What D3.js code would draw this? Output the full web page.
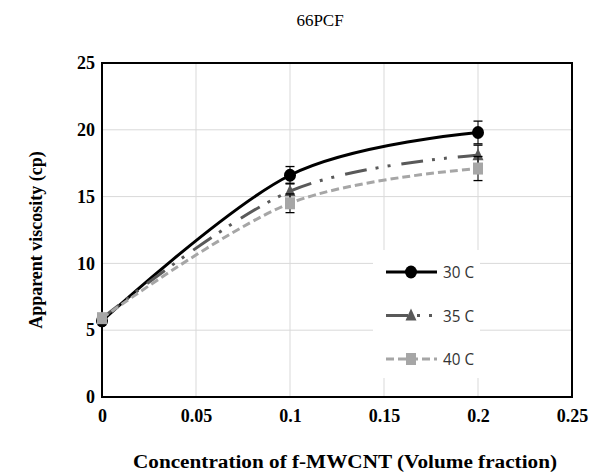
<!DOCTYPE html>
<html>
<head>
<meta charset="utf-8">
<script src="https://cdn.jsdelivr.net/npm/d3@7"></script>
<style>
  body { margin: 0; background: #fff; }
  svg { display: block; }
</style>
</head>
<body>
<script>
// ---- data ----
const concentrations = [0, 0.1, 0.2];
const seriesNames = ["30 C", "35 C", "40 C"];
const visc30 = [5.7, 16.6, 19.8];
const visc35 = [5.9, 15.4, 18.1];
const visc40 = [5.9, 14.5, 17.1];
const err30 = [0, 0.65, 0.85];
const err35 = [0, 0.6, 0.75];
const err40 = [0, 0.7, 0.9];
const xTicks = [0, 0.05, 0.1, 0.15, 0.2, 0.25];
const yTicks = [0, 5, 10, 15, 20, 25];
const chartTitle = "66PCF";
const xTitle = "Concentration of f-MWCNT (Volume fraction)";
const yTitle = "Apparent viscosity (cp)";

const W = 594, H = 475;
const svg = d3.select("body").append("svg").attr("width", W).attr("height", H);

const x = d3.scaleLinear().domain([0, 0.25]).range([102, 572]);
const y = d3.scaleLinear().domain([0, 25]).range([397, 63]);

const serif = "'Liberation Serif', 'Times New Roman', serif";

// gridlines
svg.append("g").selectAll("line.v").data(xTicks.slice(1, -1)).join("line")
  .attr("x1", d => x(d)).attr("x2", d => x(d)).attr("y1", y(25)).attr("y2", y(0))
  .attr("stroke", "#d9d9d9").attr("stroke-width", 1);
svg.append("g").selectAll("line.h").data(yTicks.slice(1, -1)).join("line")
  .attr("x1", x(0)).attr("x2", x(0.25)).attr("y1", d => y(d)).attr("y2", d => y(d))
  .attr("stroke", "#d9d9d9").attr("stroke-width", 1);

// axes (labels only)
const xAxis = svg.append("g").attr("transform", `translate(0,${y(0)})`)
  .call(d3.axisBottom(x).tickValues(xTicks).tickSize(0).tickPadding(12).tickFormat(d3.format("")));
xAxis.select(".domain").remove();
xAxis.selectAll("text").attr("font-family", serif).attr("font-weight", "bold").attr("font-size", 18).attr("fill", "#000");

const yAxis = svg.append("g").attr("transform", `translate(${x(0)},0)`)
  .call(d3.axisLeft(y).tickValues(yTicks).tickSize(0).tickPadding(7));
yAxis.select(".domain").remove();
yAxis.selectAll("text").attr("font-family", serif).attr("font-weight", "bold").attr("font-size", 18).attr("fill", "#000");

// frame
svg.append("rect").attr("x", x(0)).attr("y", y(25)).attr("width", x(0.25) - x(0)).attr("height", y(0) - y(25))
  .attr("fill", "none").attr("stroke", "#000").attr("stroke-width", 2);

// series
const series = [
  { name: seriesNames[0], vals: visc30, err: err30, color: "#000000", dash: null, marker: "circle" },
  { name: seriesNames[1], vals: visc35, err: err35, color: "#595959", dash: "22,9,3,9,3,11", marker: "triangle" },
  { name: seriesNames[2], vals: visc40, err: err40, color: "#a6a6a6", dash: "8,4", marker: "square" }
];

const line = d3.line().curve(d3.curveCardinal.tension(0)).x(d => x(d[0])).y(d => y(d[1]));

function drawMarker(g, type, cx, cy, color) {
  if (type === "circle") {
    g.append("ellipse").attr("cx", cx).attr("cy", cy).attr("rx", 6).attr("ry", 6.5).attr("fill", color);
  } else if (type === "triangle") {
    g.append("path").attr("d", `M${cx},${cy - 7}L${cx + 5.5},${cy + 5}L${cx - 5.5},${cy + 5}Z`).attr("fill", color);
  } else {
    g.append("rect").attr("x", cx - 5).attr("y", cy - 6).attr("width", 10).attr("height", 12).attr("fill", color);
  }
}

series.forEach(s => {
  const pts = concentrations.map((c, i) => [c, s.vals[i]]);
  svg.append("path").datum(pts).attr("d", line)
    .attr("fill", "none").attr("stroke", s.color).attr("stroke-width", 3)
    .attr("stroke-dasharray", s.dash);
});

series.forEach(s => {
  const g = svg.append("g");
  concentrations.forEach((c, i) => {
    const e = s.err[i];
    if (e > 0) {
      const cx = x(c);
      g.append("line").attr("x1", cx).attr("x2", cx).attr("y1", y(s.vals[i] + e)).attr("y2", y(s.vals[i] - e))
        .attr("stroke", "#000").attr("stroke-width", 1);
      [s.vals[i] + e, s.vals[i] - e].forEach(v => {
        g.append("line").attr("x1", cx - 4.5).attr("x2", cx + 4.5).attr("y1", y(v)).attr("y2", y(v))
          .attr("stroke", "#000").attr("stroke-width", 1.3);
      });
    }
  });
  concentrations.forEach((c, i) => drawMarker(g, s.marker, x(c), y(s.vals[i]), s.color));
});

// legend
const lg = svg.append("g");
lg.append("rect").attr("x", 373).attr("y", 250).attr("width", 107).attr("height", 128).attr("fill", "#fff");
series.forEach((s, i) => {
  const ly = 272 + i * 43.5;
  lg.append("line").attr("x1", 386).attr("x2", 437).attr("y1", ly).attr("y2", ly)
    .attr("stroke", s.color).attr("stroke-width", 3).attr("stroke-dasharray", s.dash);
  drawMarker(lg, s.marker, 411, ly, s.color);
  lg.append("text").attr("x", 443).attr("y", ly + 6).text(s.name)
    .attr("font-family", "'Open Sans', sans-serif").attr("font-size", 17).attr("fill", "#333")
    .attr("textLength", 31).attr("lengthAdjust", "spacingAndGlyphs");
});

// titles
svg.append("text").attr("x", 320).attr("y", 26).attr("text-anchor", "middle")
  .attr("font-family", serif).attr("font-size", 17).attr("fill", "#000").text(chartTitle);

svg.append("text").attr("x", 345).attr("y", 468).attr("text-anchor", "middle")
  .attr("font-family", serif).attr("font-weight", "bold").attr("font-size", 18).attr("fill", "#000")
  .attr("textLength", 424).attr("lengthAdjust", "spacingAndGlyphs").text(xTitle);

svg.append("text").attr("transform", "translate(42,240) rotate(-90)").attr("text-anchor", "middle")
  .attr("font-family", serif).attr("font-weight", "bold").attr("font-size", 18).attr("fill", "#000")
  .text(yTitle);
</script>
</body>
</html>
